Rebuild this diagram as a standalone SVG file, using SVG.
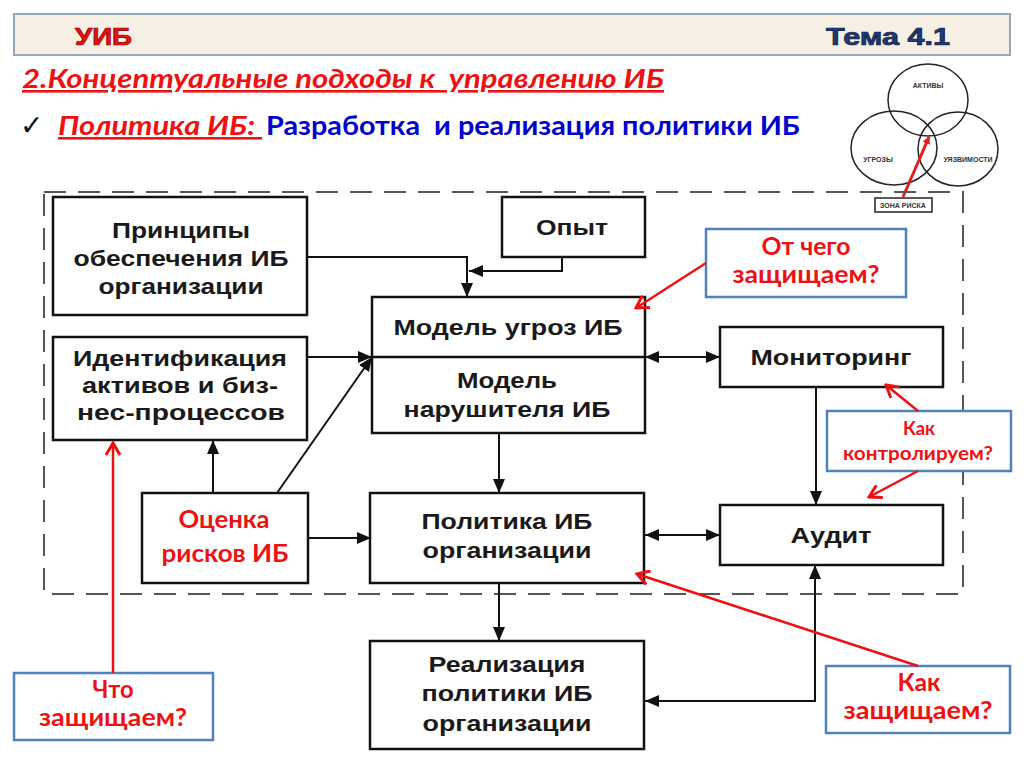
<svg xmlns="http://www.w3.org/2000/svg" width="1024" height="767" viewBox="0 0 1024 767">
<defs>
<marker id="ah" markerUnits="userSpaceOnUse" markerWidth="14" markerHeight="12" viewBox="0 0 14 12" refX="14" refY="6" orient="auto-start-reverse"><path d="M0,0 L14,6 L0,12 z" fill="#111"/></marker>
<marker id="rh" markerUnits="userSpaceOnUse" markerWidth="16" markerHeight="16" viewBox="0 0 16 16" refX="14" refY="8" orient="auto"><path d="M2,1 L14,8 L2,15" fill="none" stroke="#ee1111" stroke-width="3"/></marker>
<marker id="rhs" markerUnits="userSpaceOnUse" markerWidth="8" markerHeight="8" viewBox="0 0 8 8" refX="7" refY="4" orient="auto"><path d="M0,0 L8,4 L0,8 z" fill="#e02020"/></marker>
</defs>
<style>
.box{fill:#fff;stroke:#111;stroke-width:2.5}
.bbox{fill:#fff;stroke:#4f81bd;stroke-width:2.5}
.t{font-family:"Liberation Sans",Arial,sans-serif;font-weight:bold;font-size:22px;fill:#1a1a1a;text-anchor:middle}
.r{font-family:Lato,"Open Sans",sans-serif;font-weight:bold;font-size:25px;fill:#ee1111;text-anchor:middle}
.rs{font-size:18px}
.c{fill:none;stroke:#111;stroke-width:2}
.rc{fill:none;stroke:#ee1111;stroke-width:2.5}
.v{font-family:"Liberation Sans",Arial,sans-serif;font-weight:bold;font-size:7px;fill:#333;text-anchor:middle}
.h{font-family:"Liberation Sans",Arial,sans-serif;font-weight:bold;font-size:23px;stroke-width:0.7}
</style>
<rect width="1024" height="767" fill="#fff"/>

<g id="header">
<rect x="14" y="14" width="996" height="41" fill="#f5efe4" stroke="#95a7bb" stroke-width="2"/>
<text class="h" x="75" y="45" fill="#ee1111" stroke="#8a0000" textLength="57" lengthAdjust="spacingAndGlyphs">УИБ</text>
<text class="h" x="826" y="45" fill="#1f3a78" stroke="#0a1a40" textLength="124" lengthAdjust="spacingAndGlyphs">Тема 4.1</text>
</g>

<g id="title">
<text x="22" y="88" xml:space="preserve" font-family="Lato,'Open Sans',sans-serif" font-weight="bold" font-style="italic" font-size="26" fill="#ee1111" text-decoration="underline" textLength="642" lengthAdjust="spacingAndGlyphs">2.Концептуальные подходы к  управлению ИБ</text>
<text x="20" y="135" font-family="'DejaVu Sans','Noto Sans',sans-serif" font-size="28" fill="#111">✓</text>
<text x="58" y="135" xml:space="preserve" font-family="Lato,'Open Sans',sans-serif" font-weight="bold" font-style="italic" font-size="26" fill="#ee1111" text-decoration="underline" textLength="204" lengthAdjust="spacingAndGlyphs">Политика ИБ: </text>
<text x="266" y="135" xml:space="preserve" font-family="Lato,'Open Sans',sans-serif" font-weight="bold" font-size="26" fill="#0000cc" textLength="534" lengthAdjust="spacingAndGlyphs">Разработка  и реализация политики ИБ</text>
</g>

<g id="venn">
<ellipse cx="928" cy="100" rx="40" ry="36" fill="none" stroke="#222" stroke-width="1.5"/>
<ellipse cx="894" cy="148" rx="43" ry="37" fill="none" stroke="#222" stroke-width="1.5"/>
<ellipse cx="958" cy="149" rx="40" ry="37" fill="none" stroke="#222" stroke-width="1.5"/>
<text class="v" x="928" y="88">АКТИВЫ</text>
<text class="v" x="878" y="162">УГРОЗЫ</text>
<text class="v" x="968" y="162">УЯЗВИМОСТИ</text>
<rect x="875" y="198" width="57" height="14" fill="#fff" stroke="#222" stroke-width="1.5"/>
<text class="v" x="903" y="208">ЗОНА РИСКА</text>
<line x1="903" y1="197" x2="929" y2="137" stroke="#e02020" stroke-width="3" marker-end="url(#rhs)"/>
</g>

<rect id="frame" x="44" y="192" width="919" height="402" fill="none" stroke="#555" stroke-width="2" stroke-dasharray="22 12"/>

<g id="connectors">
<path class="c" d="M307 257 H467 V297" marker-end="url(#ah)"/>
<path class="c" d="M562 257 V271 H469" marker-end="url(#ah)"/>
<path class="c" d="M307 357 H372" marker-end="url(#ah)"/>
<path class="c" d="M277 493 L372 357" marker-end="url(#ah)"/>
<path class="c" d="M213 493 V440" marker-end="url(#ah)"/>
<path class="c" d="M308 538 H371" marker-end="url(#ah)"/>
<path class="c" d="M645 357 H720" marker-start="url(#ah)" marker-end="url(#ah)"/>
<path class="c" d="M499 433 V493" marker-end="url(#ah)"/>
<path class="c" d="M816 387 V505" marker-end="url(#ah)"/>
<path class="c" d="M645 535 H720" marker-start="url(#ah)" marker-end="url(#ah)"/>
<path class="c" d="M499 583 V641" marker-end="url(#ah)"/>
<path class="c" d="M645 701 H815 V565" marker-start="url(#ah)" marker-end="url(#ah)"/>
</g>

<g id="n-principles">
<rect class="box" x="53" y="197" width="254" height="118"/>
<text class="t" x="181" y="238" textLength="138" lengthAdjust="spacingAndGlyphs">Принципы</text>
<text class="t" x="181" y="266" textLength="215" lengthAdjust="spacingAndGlyphs">обеспечения ИБ</text>
<text class="t" x="181" y="294" textLength="165" lengthAdjust="spacingAndGlyphs">организации</text>
</g>
<g id="n-experience">
<rect class="box" x="502" y="197" width="143" height="60"/>
<text class="t" x="572" y="235" textLength="72" lengthAdjust="spacingAndGlyphs">Опыт</text>
</g>
<g id="n-ident">
<rect class="box" x="53" y="337" width="254" height="103"/>
<text class="t" x="180" y="366" textLength="214" lengthAdjust="spacingAndGlyphs">Идентификация</text>
<text class="t" x="180" y="393" textLength="196" lengthAdjust="spacingAndGlyphs">активов и биз-</text>
<text class="t" x="181" y="420" textLength="208" lengthAdjust="spacingAndGlyphs">нес-процессов</text>
</g>
<g id="n-model">
<rect class="box" x="372" y="297" width="273" height="136"/>
<line x1="372" y1="357" x2="645" y2="357" stroke="#111" stroke-width="2.5"/>
<text class="t" x="508" y="335" textLength="229" lengthAdjust="spacingAndGlyphs">Модель угроз ИБ</text>
<text class="t" x="507" y="388" textLength="100" lengthAdjust="spacingAndGlyphs">Модель</text>
<text class="t" x="507" y="417" textLength="207" lengthAdjust="spacingAndGlyphs">нарушителя ИБ</text>
</g>
<g id="n-monitor">
<rect class="box" x="720" y="327" width="223" height="60"/>
<text class="t" x="831" y="365" textLength="161" lengthAdjust="spacingAndGlyphs">Мониторинг</text>
</g>
<g id="n-risk">
<rect class="box" x="142" y="493" width="166" height="90"/>
<text class="r" x="224" y="528" textLength="91" lengthAdjust="spacingAndGlyphs">Оценка</text>
<text class="r" x="225" y="562" textLength="127" lengthAdjust="spacingAndGlyphs">рисков ИБ</text>
</g>
<g id="n-policy">
<rect class="box" x="370" y="493" width="274" height="90"/>
<text class="t" x="507" y="529" textLength="171" lengthAdjust="spacingAndGlyphs">Политика ИБ</text>
<text class="t" x="507" y="558" textLength="169" lengthAdjust="spacingAndGlyphs">организации</text>
</g>
<g id="n-audit">
<rect class="box" x="720" y="505" width="223" height="60"/>
<text class="t" x="831" y="543" textLength="81" lengthAdjust="spacingAndGlyphs">Аудит</text>
</g>
<g id="n-impl">
<rect class="box" x="370" y="641" width="274" height="108"/>
<text class="t" x="507" y="672" textLength="157" lengthAdjust="spacingAndGlyphs">Реализация</text>
<text class="t" x="507" y="701" textLength="171" lengthAdjust="spacingAndGlyphs">политики ИБ</text>
<text class="t" x="507" y="731" textLength="169" lengthAdjust="spacingAndGlyphs">организации</text>
</g>

<g id="q-from-what">
<rect class="bbox" x="706" y="229" width="200" height="68"/>
<text class="r" x="806" y="255" textLength="89" lengthAdjust="spacingAndGlyphs">От чего</text>
<text class="r" x="806" y="283" textLength="147" lengthAdjust="spacingAndGlyphs">защищаем?</text>
</g>
<g id="q-control">
<rect class="bbox" x="827" y="411" width="184" height="60"/>
<text class="r rs" x="919" y="435" textLength="32" lengthAdjust="spacingAndGlyphs">Как</text>
<text class="r rs" x="918" y="460" textLength="150" lengthAdjust="spacingAndGlyphs">контролируем?</text>
</g>
<g id="q-what">
<rect class="bbox" x="14" y="673" width="199" height="67"/>
<text class="r" x="113" y="698" textLength="41" lengthAdjust="spacingAndGlyphs">Что</text>
<text class="r" x="113" y="726" textLength="148" lengthAdjust="spacingAndGlyphs">защищаем?</text>
</g>
<g id="q-how">
<rect class="bbox" x="826" y="666" width="184" height="67"/>
<text class="r" x="919" y="691" textLength="43" lengthAdjust="spacingAndGlyphs">Как</text>
<text class="r" x="918" y="719" textLength="149" lengthAdjust="spacingAndGlyphs">защищаем?</text>
</g>

<g id="red-pointers">
<line class="rc" x1="706" y1="263" x2="636" y2="308" marker-end="url(#rh)"/>
<line class="rc" x1="918" y1="411" x2="886" y2="385" marker-end="url(#rh)"/>
<line class="rc" x1="918" y1="471" x2="869" y2="497" marker-end="url(#rh)"/>
<line class="rc" x1="918" y1="666" x2="637" y2="574" stroke-width="4" marker-end="url(#rh)"/>
<line class="rc" x1="113" y1="673" x2="113" y2="443" stroke-width="3.5" marker-end="url(#rh)"/>
</g>
</svg>
